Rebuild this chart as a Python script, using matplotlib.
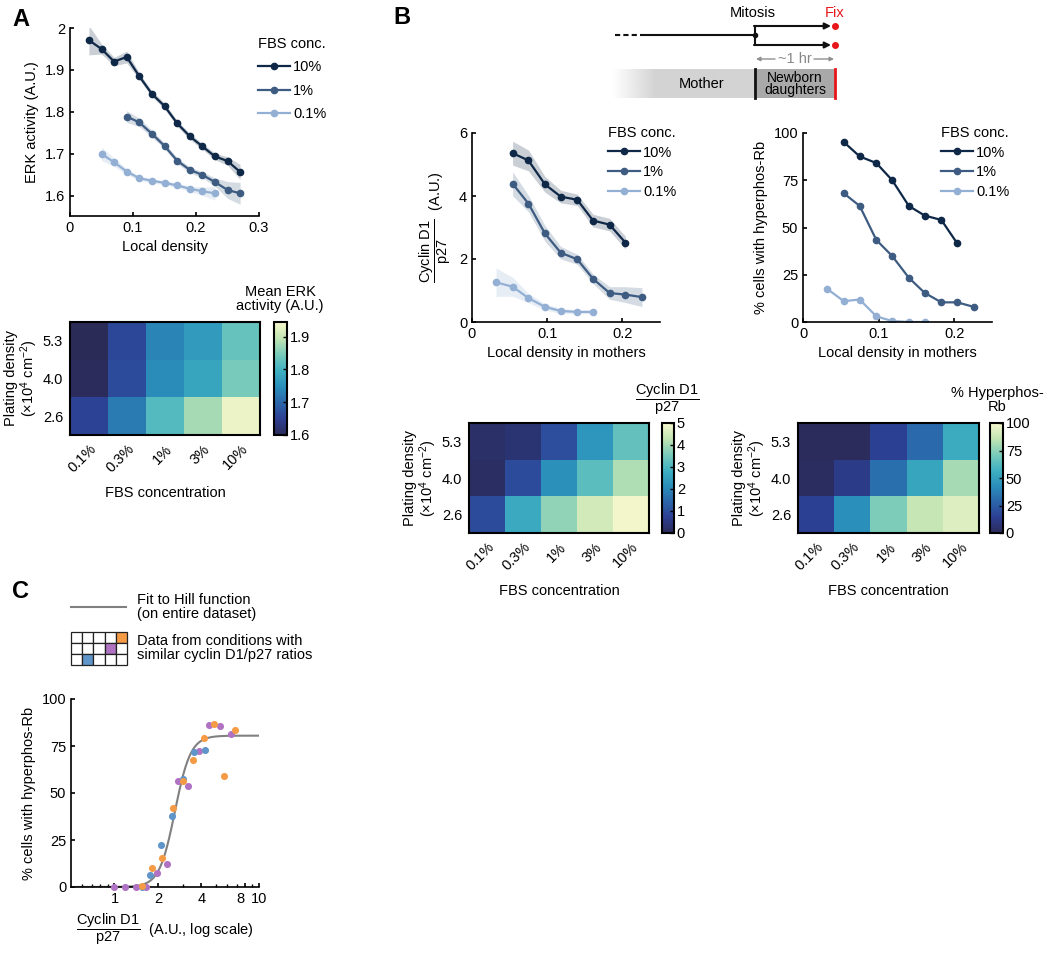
import numpy as np
import matplotlib
matplotlib.use('Agg')
import matplotlib.pyplot as plt
from matplotlib.colors import LinearSegmentedColormap, to_rgb
from matplotlib.patches import Rectangle
from matplotlib.ticker import FixedLocator, NullFormatter

plt.rcParams['font.family'] = ['Liberation Sans', 'DejaVu Sans']
plt.rcParams['mathtext.fontset'] = 'custom'
plt.rcParams['mathtext.rm'] = 'Liberation Sans'
plt.rcParams['mathtext.it'] = 'Liberation Sans:italic'
plt.rcParams['mathtext.bf'] = 'Liberation Sans:bold'
plt.rcParams['font.size'] = 10
plt.rcParams['axes.linewidth'] = 1.2
plt.rcParams['xtick.direction'] = 'in'
plt.rcParams['ytick.direction'] = 'in'
plt.rcParams['xtick.major.size'] = 3
plt.rcParams['ytick.major.size'] = 3

# =========================
# Data
# =========================
fbs_levels = ['10%', '1%', '0.1%']
line_colors = ['#0f2847', '#3e5c82', '#93b0d4']

# A: ERK activity vs local density
a_x_10 = [0.03, 0.05, 0.07, 0.09, 0.11, 0.13, 0.15, 0.17, 0.19, 0.21, 0.23, 0.25, 0.27]
a_y_10 = [1.971, 1.950, 1.920, 1.931, 1.885, 1.843, 1.814, 1.773, 1.742, 1.718, 1.694, 1.683, 1.657]
a_e_10 = [0.035, 0.012, 0.010, 0.014, 0.008, 0.007, 0.007, 0.007, 0.007, 0.007, 0.008, 0.010, 0.018]
a_x_1 = [0.09, 0.11, 0.13, 0.15, 0.17, 0.19, 0.21, 0.23, 0.25, 0.27]
a_y_1 = [1.789, 1.775, 1.748, 1.719, 1.684, 1.662, 1.650, 1.633, 1.614, 1.606]
a_e_1 = [0.014, 0.010, 0.008, 0.007, 0.007, 0.007, 0.007, 0.010, 0.020, 0.026]
a_x_01 = [0.05, 0.07, 0.09, 0.11, 0.13, 0.15, 0.17, 0.19, 0.21, 0.23]
a_y_01 = [1.700, 1.680, 1.658, 1.642, 1.636, 1.631, 1.625, 1.617, 1.611, 1.606]
a_e_01 = [0.016, 0.010, 0.007, 0.005, 0.005, 0.005, 0.005, 0.006, 0.010, 0.016]

# heatmap axes
fbs_conc = ['0.1%', '0.3%', '1%', '3%', '10%']
plating = ['5.3', '4.0', '2.6']

erk_map = [[1.600, 1.660, 1.735, 1.765, 1.830],
           [1.605, 1.665, 1.745, 1.780, 1.845],
           [1.655, 1.725, 1.815, 1.875, 1.935]]

# B: cyclin D1 / p27 and hyperphos-Rb vs local density in mothers
b_x_10 = [0.054, 0.075, 0.097, 0.118, 0.140, 0.161, 0.183, 0.204]
b_x_1 = [0.054, 0.075, 0.097, 0.118, 0.140, 0.161, 0.183, 0.204, 0.226]
b_x_01 = [0.032, 0.054, 0.075, 0.097, 0.118, 0.140, 0.161]
cyc_10 = [5.36, 5.13, 4.37, 3.98, 3.88, 3.22, 3.09, 2.52]
cyc_e_10 = [0.38, 0.33, 0.25, 0.20, 0.18, 0.20, 0.20, 0.20]
cyc_1 = [4.39, 3.76, 2.81, 2.20, 1.99, 1.37, 0.92, 0.87, 0.79]
cyc_e_1 = [0.38, 0.26, 0.25, 0.20, 0.16, 0.15, 0.20, 0.25, 0.30]
cyc_01 = [1.26, 1.12, 0.76, 0.48, 0.35, 0.32, 0.32]
cyc_e_01 = [0.45, 0.30, 0.15, 0.10, 0.08, 0.06, 0.06]
rb_10 = [95.2, 87.6, 84.1, 75.0, 61.4, 56.3, 54.0, 41.6]
rb_1 = [68.1, 61.4, 43.4, 34.9, 23.4, 15.4, 10.4, 10.4, 8.0]
rb_01 = [17.5, 11.0, 11.9, 3.0, 0.5, 0.0, 0.0]

cyc_map = [[0.20, 0.35, 1.00, 2.30, 3.30],
           [0.15, 0.95, 2.20, 3.20, 4.10],
           [0.95, 2.70, 3.80, 4.50, 4.95]]
rb_map = [[1, 1, 15, 30, 55],
          [2, 12, 32, 52, 80],
          [15, 43, 72, 87, 93]]

# C: hyperphos-Rb vs cyclin D1/p27, three groups of conditions
c_orange_x = [1.55, 1.82, 2.14, 2.54, 2.99, 3.52, 4.15, 4.92, 5.76, 6.83]
c_orange_y = [0.5, 10.1, 15.2, 42.0, 56.5, 67.6, 79.4, 86.5, 59.3, 83.6]
c_purple_x = [0.99, 1.18, 1.40, 1.66, 1.97, 2.32, 2.75, 3.25, 3.84, 4.54, 5.41, 6.41]
c_purple_y = [0.0, 0.0, 0.0, 0.0, 7.6, 12.2, 56.6, 53.8, 72.2, 86.3, 85.6, 81.5]
c_blue_x = [1.56, 1.77, 2.09, 2.50, 2.98, 3.55, 4.20]
c_blue_y = [0.0, 6.5, 22.1, 37.8, 57.2, 71.8, 73.0]
c_colors = {'orange': '#f59a45', 'purple': '#b072c2', 'blue': '#5f95c8'}
hill_top, hill_k, hill_n = 80.5, 2.62, 8.0

# =========================
# Helpers
# =========================
W, H = 1050, 957
fig = plt.figure(figsize=(W / 100, H / 100), dpi=100)

def px_axes(l, t, r, b):
    return fig.add_axes([l / W, 1 - b / H, (r - l) / W, (b - t) / H])

cmap = LinearSegmentedColormap.from_list(
    'ygb', ['#2b2b58', '#2d3f93', '#2b66aa', '#2a8fbb', '#40b1c2',
            '#7acbba', '#c2e5b3', '#f6f8cc'])

def line_axes(ax):
    ax.spines['top'].set_visible(False)
    ax.spines['right'].set_visible(False)
    ax.tick_params(width=1.2, length=3)

def draw_lines(ax, series, bands=True):
    handles = []
    for (x, y, e), c, lab in zip(series, line_colors, fbs_levels):
        x, y = np.array(x), np.array(y)
        if bands:
            e = np.array(e)
            ax.fill_between(x, y - e, y + e, color=c, alpha=0.22, lw=0)
        h, = ax.plot(x, y, '-o', color=c, lw=1.6, ms=4.5, label=lab)
        handles.append(h)
    return handles

def add_legend(ax, handles, xp, yp, spacing):
    leg = ax.legend(handles=handles, title='FBS conc.', loc='upper left',
                    bbox_to_anchor=(xp / W, 1 - yp / H), bbox_transform=fig.transFigure,
                    frameon=False, handlelength=2.2, handletextpad=0.2,
                    labelspacing=spacing, borderpad=0, borderaxespad=0,
                    fontsize=10.5, title_fontsize=10.5, alignment='left')
    return leg

def heatmap(ax, cax, data, vmin, vmax, ticks):
    im = ax.imshow(np.array(data), cmap=cmap, vmin=vmin, vmax=vmax, aspect='auto')
    ax.set_xticks(range(len(fbs_conc)))
    ax.set_xticklabels(fbs_conc, rotation=45, ha='right', rotation_mode='anchor')
    ax.set_yticks(range(len(plating)))
    ax.set_yticklabels(plating)
    ax.tick_params(length=0, labelsize=10.5, pad=5)
    for s in ax.spines.values():
        s.set_linewidth(1.5)
    ax.set_xlabel('FBS concentration', fontsize=10.5, labelpad=8)
    ax.set_ylabel('Plating density\n(×10$^4$ cm$^{-2}$)', fontsize=10.5, labelpad=2,
                  linespacing=1.0)
    cb = fig.colorbar(im, cax=cax, ticks=ticks)
    cb.outline.set_linewidth(1.5)
    cax.tick_params(direction='in', length=3, width=1, labelsize=10.5, pad=2)
    return cb

# =========================
# Panel A
# =========================
axA = px_axes(70, 28, 259, 216)
hA = draw_lines(axA, [(a_x_10, a_y_10, a_e_10), (a_x_1, a_y_1, a_e_1),
                      (a_x_01, a_y_01, a_e_01)])
line_axes(axA)
axA.set_xlim(0, 0.3)
axA.set_ylim(1.552, 2.0)
axA.set_xticks([0, 0.1, 0.2, 0.3])
axA.set_xticklabels(['0', '0.1', '0.2', '0.3'])
axA.set_yticks([1.6, 1.7, 1.8, 1.9, 2.0])
axA.set_yticklabels(['1.6', '1.7', '1.8', '1.9', '2'])
axA.tick_params(labelsize=10.5)
axA.set_xlabel('Local density', fontsize=10.5)
axA.set_ylabel('ERK activity (A.U.)', fontsize=10.5)
add_legend(axA, hA, 258, 37, 0.64)

axAh = px_axes(70, 322, 260, 435)
caxA = px_axes(274, 322, 287, 435)
heatmap(axAh, caxA, erk_map, 1.6, 1.945, [1.6, 1.7, 1.8, 1.9])

# =========================
# Panel B
# =========================
axB1 = px_axes(472, 133, 660, 322)
hB1 = draw_lines(axB1, [(b_x_10, cyc_10, cyc_e_10), (b_x_1, cyc_1, cyc_e_1),
                        (b_x_01, cyc_01, cyc_e_01)])
line_axes(axB1)
axB1.set_xlim(0, 0.25)
axB1.set_ylim(0, 6)
axB1.set_xticks([0, 0.1, 0.2])
axB1.set_xticklabels(['0', '0.1', '0.2'])
axB1.set_yticks([0, 2, 4, 6])
axB1.tick_params(labelsize=10.5)
axB1.set_xlabel('Local density in mothers', fontsize=10.5)
axB1.set_ylabel(r'$\dfrac{\mathrm{Cyclin\ D1}}{\mathrm{p27}}$  (A.U.)', fontsize=10.5)
add_legend(axB1, hB1, 608, 126, 0.38)

axB2 = px_axes(803, 133, 992, 322)
hB2 = draw_lines(axB2, [(b_x_10, rb_10, None), (b_x_1, rb_1, None),
                        (b_x_01, rb_01, None)], bands=False)
line_axes(axB2)
axB2.set_xlim(0, 0.25)
axB2.set_ylim(0, 100)
axB2.set_xticks([0, 0.1, 0.2])
axB2.set_xticklabels(['0', '0.1', '0.2'])
axB2.set_yticks([0, 25, 50, 75, 100])
axB2.tick_params(labelsize=10.5)
axB2.set_xlabel('Local density in mothers', fontsize=10.5)
axB2.set_ylabel('% cells with hyperphos-Rb', fontsize=10.5)
add_legend(axB2, hB2, 941, 126, 0.38)

axB1h = px_axes(469, 423, 649, 533)
caxB1 = px_axes(662, 423, 674, 533)
heatmap(axB1h, caxB1, cyc_map, 0, 5, [0, 1, 2, 3, 4, 5])

axB2h = px_axes(798, 423, 979, 533)
caxB2 = px_axes(990, 423, 1003, 533)
heatmap(axB2h, caxB2, rb_map, 0, 100, [0, 25, 50, 75, 100])

# =========================
# Panel C
# =========================
axC = px_axes(71, 699, 259, 887)
line_axes(axC)
xs = np.logspace(np.log10(0.5), 1, 300)
axC.plot(xs, hill_top * xs ** hill_n / (hill_k ** hill_n + xs ** hill_n),
         color='#808080', lw=1.5, zorder=2)
for name, xv, yv in [('purple', c_purple_x, c_purple_y),
                     ('blue', c_blue_x, c_blue_y),
                     ('orange', c_orange_x, c_orange_y)]:
    axC.scatter(xv, yv, s=26, color=c_colors[name], lw=0, zorder=3, clip_on=False)
axC.set_xscale('log')
axC.set_xlim(0.5, 10)
axC.set_ylim(0, 100)
axC.xaxis.set_major_locator(FixedLocator([1, 2, 4, 8, 10]))
axC.set_xticklabels(['1', '2', '4', '8', '10'])
axC.xaxis.set_minor_locator(FixedLocator([0.6, 0.7, 0.8, 0.9, 3, 5, 6, 7, 9]))
axC.xaxis.set_minor_formatter(NullFormatter())
axC.tick_params(axis='x', which='minor', length=2, width=1)
axC.set_yticks([0, 25, 50, 75, 100])
axC.tick_params(labelsize=10.5)
axC.get_xticklabels()[3].set_ha('right')
axC.set_xlabel(r'$\dfrac{\mathrm{Cyclin\ D1}}{\mathrm{p27}}$  (A.U., log scale)', fontsize=10.5)
axC.set_ylabel('% cells with hyperphos-Rb', fontsize=10.5)

# =========================
# Overlay: labels, schematic, legends
# =========================
ov = fig.add_axes([0, 0, 1, 1], zorder=10)
ov.patch.set_visible(False)

ov.text(12, 20, 'A', fontsize=17, fontweight='bold', va='center')
ov.text(393, 18, 'B', fontsize=17, fontweight='bold', va='center')
ov.text(12, 592, 'C', fontsize=17, fontweight='bold', va='center')

# colorbar titles
ov.text(280, 299, 'Mean ERK\nactivity (A.U.)', ha='center', va='center',
        fontsize=10.5, linespacing=1.0)
ov.text(667, 399, r'$\dfrac{\mathrm{Cyclin\ D1}}{\mathrm{p27}}$', ha='center',
        va='center', fontsize=10.5)
ov.text(997, 400, '% Hyperphos-\nRb', ha='center', va='center',
        fontsize=10.5, linespacing=1.0)

# schematic (mother -> mitosis -> fix)
k = '#111111'
ov.plot([615, 642], [35, 35], color=k, lw=1.5, ls=(0, (2.5, 1.5)))
ov.plot([642, 755], [35, 35], color=k, lw=1.5)
ov.plot([755, 755], [26, 45], color=k, lw=1.5)
for yy in (26, 45):
    ov.annotate('', xy=(831, yy), xytext=(754, yy),
                arrowprops=dict(arrowstyle='-|>', color=k, lw=1.5,
                                mutation_scale=9, shrinkA=0, shrinkB=0))
    ov.plot(835, yy, 'o', color='#e8161b', ms=4)
ov.plot(755, 35, 'o', color=k, ms=3)
ov.text(753, 13, 'Mitosis', ha='center', va='center', fontsize=10.5)
ov.text(835, 13, 'Fix', ha='center', va='center', fontsize=10.5, color='#e8161b')
ov.annotate('', xy=(756, 59), xytext=(775, 59),
            arrowprops=dict(arrowstyle='-|>', color='#909090', lw=1,
                            mutation_scale=6, shrinkA=0, shrinkB=0))
ov.annotate('', xy=(834, 59), xytext=(814, 59),
            arrowprops=dict(arrowstyle='-|>', color='#909090', lw=1,
                            mutation_scale=6, shrinkA=0, shrinkB=0))
ov.text(795, 59, '~1 hr', ha='center', va='center', fontsize=10.5, color='#888888')

grad = np.ones((1, 200, 4))
grad[..., :3] = to_rgb('#d3d3d3')
grad[..., 3] = np.clip(np.linspace(0, 1, 200) / 0.3, 0, 1)
ov.imshow(grad, extent=(613, 755, 98, 69), aspect='auto', zorder=1)
ov.add_patch(Rectangle((755, 69), 80, 29, color='#a9a9a9', lw=0, zorder=1))
ov.plot([755, 755], [69, 98], color=k, lw=2, zorder=2)
ov.plot([835, 835], [69, 98], color='#e8161b', lw=2, zorder=2)
ov.text(702, 84, 'Mother', ha='center', va='center', fontsize=10.5)
ov.text(795, 84, 'Newborn\ndaughters', ha='center', va='center', fontsize=10,
        linespacing=0.9)

# C legend
ov.plot([71, 126], [607, 607], color='#808080', lw=1.5)
ov.text(137, 607, 'Fit to Hill function\n(on entire dataset)', va='center',
        fontsize=10.5, linespacing=0.95)
cw, chh = 11.2, 11.0
filled = {(4, 0): 'orange', (3, 1): 'purple', (1, 2): 'blue'}
for r in range(3):
    for cc in range(5):
        fc = c_colors[filled[(cc, r)]] if (cc, r) in filled else 'white'
        ov.add_patch(Rectangle((71 + cc * cw, 632 + r * chh), cw, chh,
                               facecolor=fc, edgecolor='#222222', lw=0.9))
ov.text(137, 648, 'Data from conditions with\nsimilar cyclin D1/p27 ratios',
        va='center', fontsize=10.5, linespacing=0.95)

ov.set_xlim(0, W)
ov.set_ylim(H, 0)
ov.axis('off')

fig.savefig('out.png', dpi=100)
